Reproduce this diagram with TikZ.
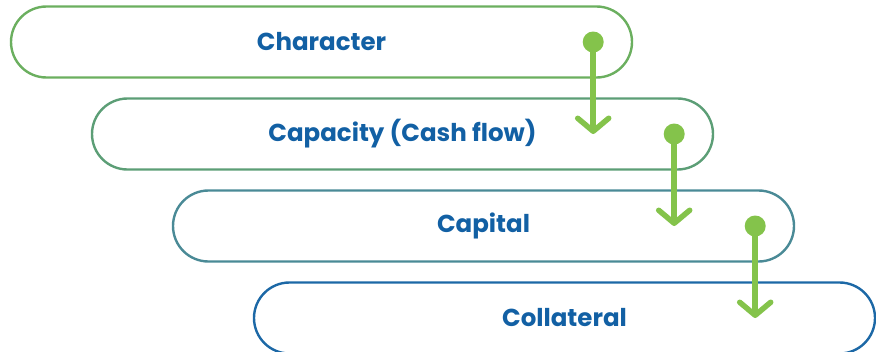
\documentclass[tikz,border=0pt]{standalone}
\usepackage{fontspec}
\setmainfont{Poppins}
\usetikzlibrary{arrows.meta, positioning}
\definecolor{stepA}{RGB}{107,175,95}
\definecolor{stepB}{RGB}{92,158,118}
\definecolor{stepC}{RGB}{74,138,150}
\definecolor{stepD}{RGB}{28,104,166}
\definecolor{labelblue}{RGB}{18,96,164}
\definecolor{flowgreen}{RGB}{132,195,75}

\begin{document}
\begin{tikzpicture}[x=1pt, y=-1pt, node distance=92pt and 81pt, on grid,
      pill/.style={draw, line width=2.4pt, rounded corners=35.5pt,
        minimum width=621pt, minimum height=71pt, inner sep=0pt,
        font=\fontsize{24.5}{28}\selectfont\bfseries, text=labelblue},
      flow/.style={draw=flowgreen, line width=5.5pt,
        -{Straight Barb[length=13pt, width=31pt, round]}},
      dot/.style={fill=flowgreen}]
      \useasboundingbox (0,0) rectangle (876,351);
      \node[pill, draw=stepA] (char) at (321.5,42) {Character};
      \node[pill, draw=stepB] (cap) [below right=of char] {Capacity (Cash flow)};
      \node[pill, draw=stepC] (capital) [below right=of cap] {Capital};
      \node[pill, draw=stepD] (coll) [below right=of capital] {Collateral};
      % arrows from one step to the next
      \foreach \a/\b in {char/cap, cap/capital, capital/coll} {
        \coordinate (s-\a) at ([xshift=-40pt]\a.east);
        \draw[flow] (s-\a) -- (s-\a |- \b.center);
        \fill[dot] (s-\a) circle (10.5pt);
      }
    \end{tikzpicture}
\end{document}
